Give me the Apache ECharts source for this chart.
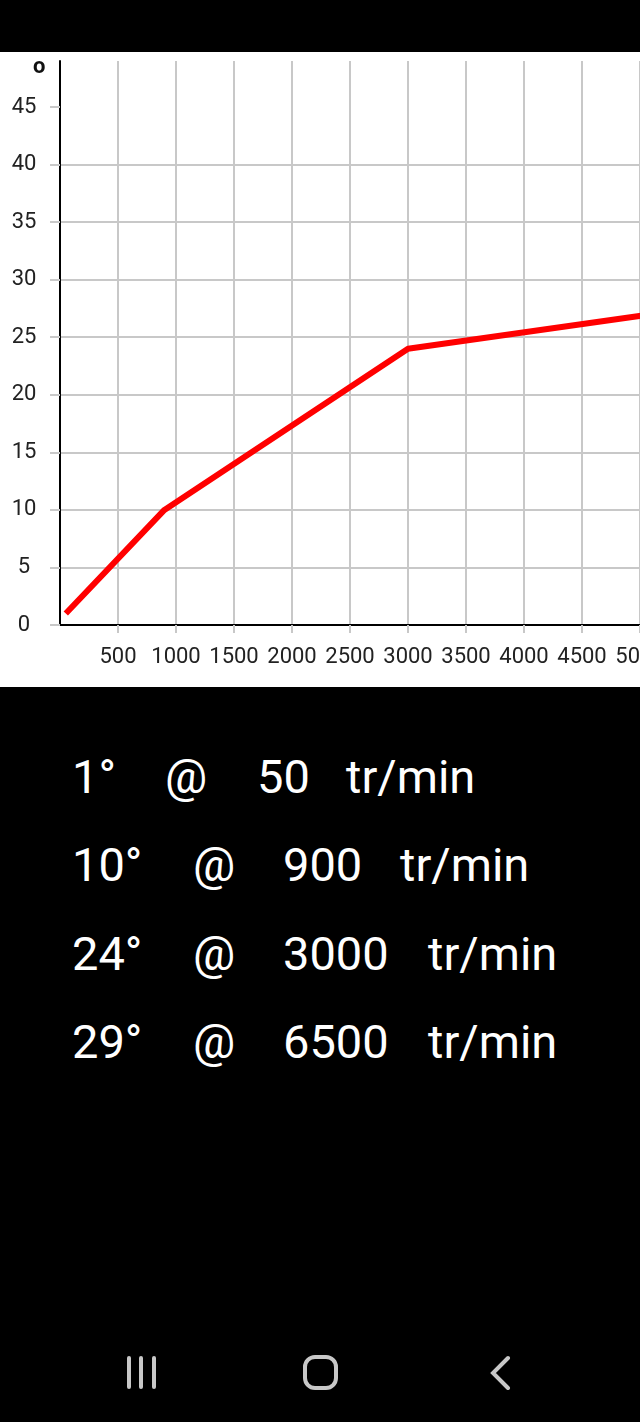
<!DOCTYPE html>
<html>
<head>
<meta charset="utf-8">
<script src="https://cdn.jsdelivr.net/npm/echarts@6/dist/echarts.min.js"></script>
<style>
  html, body { margin: 0; padding: 0; width: 640px; height: 1422px; overflow: hidden; background: #000; }
  #chart { position: absolute; left: 0; top: 52px; width: 880px; height: 635px; background: #fff; }
  .row { position: absolute; left: 0; color: #fff; font-family: Roboto, sans-serif; font-size: 47px; line-height: 47px; white-space: pre; }
  .row span { position: absolute; top: 0; }
  .nav { position: absolute; }
</style>
</head>
<body>
<div id="chart"></div>
<div id="rows"></div>
<svg class="nav" style="left:0;top:1340px" width="640" height="70">
  <g stroke="#c8c8c8" stroke-width="4" stroke-linecap="round" fill="none">
    <line x1="129" y1="18" x2="129" y2="47"/>
    <line x1="141" y1="18" x2="141" y2="47"/>
    <line x1="154" y1="18" x2="154" y2="47"/>
    <rect x="305" y="17" width="31" height="31" rx="10" ry="10"/>
    <polyline points="508,18 493,33 508,48"/>
  </g>
</svg>
<script>
// Data
const rpm = [50, 900, 3000, 6500];
const deg = [1, 10, 24, 29];
const yTicks = [0, 5, 10, 15, 20, 25, 30, 35, 40, 45];
const xTicks = [500, 1000, 1500, 2000, 2500, 3000, 3500, 4000, 4500, 5000, 5500, 6000, 6500];
const rowTexts = [
  ['1°', '@', '50', 'tr/min'],
  ['10°', '@', '900', 'tr/min'],
  ['24°', '@', '3000', 'tr/min'],
  ['29°', '@', '6500', 'tr/min']
];

// Text rows (layout)
const rowLefts = [
  [72, 165, 257, 346],
  [72, 193, 283, 400],
  [72, 193, 283, 428],
  [72, 193, 283, 428]
];
const rowBaselines = [792.5, 881, 970, 1058];
const rowsEl = document.getElementById('rows');
rowTexts.forEach((r, i) => {
  const d = document.createElement('div');
  d.className = 'row';
  d.style.top = (rowBaselines[i] - 39.6) + 'px';
  r.forEach((t, j) => {
    const s = document.createElement('span');
    s.textContent = t;
    s.style.left = rowLefts[i][j] + 'px';
    d.appendChild(s);
  });
  rowsEl.appendChild(d);
});

const chart = echarts.init(document.getElementById('chart'));
chart.setOption({
  animation: false,
  backgroundColor: '#fff',
  grid: { left: 60, top: 9, width: 754, height: 564, containLabel: false },
  graphic: [{
    type: 'text', left: 33, top: 4,
    style: { text: 'o', fontSize: 22, fontWeight: 'bold', fill: '#111', fontFamily: 'Roboto' }
  }],
  xAxis: {
    type: 'value', min: 0, max: 6500, interval: 500,
    axisLine: { show: true, onZero: false, lineStyle: { color: '#000', width: 2 } },
    axisTick: { show: true, length: 8, lineStyle: { color: '#c8c8c8', width: 2 } },
    axisLabel: {
      color: '#222', fontSize: 22, fontFamily: 'Roboto', margin: 21,
      showMinLabel: false,
      formatter: v => (xTicks.indexOf(v) >= 0 ? String(v) : '')
    },
    splitLine: { show: true, showMinLine: false, lineStyle: { color: '#c8c8c8', width: 2 } }
  },
  yAxis: {
    type: 'value', min: 0, max: 49, interval: 5,
    axisLine: { show: true, onZero: false, lineStyle: { color: '#000', width: 2 } },
    axisTick: { show: true, length: 10, customValues: yTicks, lineStyle: { color: '#c8c8c8', width: 2 } },
    axisLabel: {
      color: '#222', fontSize: 22, fontFamily: 'Roboto', margin: 36, align: 'center',
      customValues: yTicks
    },
    splitLine: { show: true, showMinLine: false, showMaxLine: false, lineStyle: { color: '#c8c8c8', width: 2 } }
  },
  series: [{
    type: 'line',
    data: rpm.map((x, i) => [x, deg[i]]),
    symbol: 'none',
    lineStyle: { color: '#ff0000', width: 6 },
    z: 3
  }]
});
</script>
</body>
</html>
